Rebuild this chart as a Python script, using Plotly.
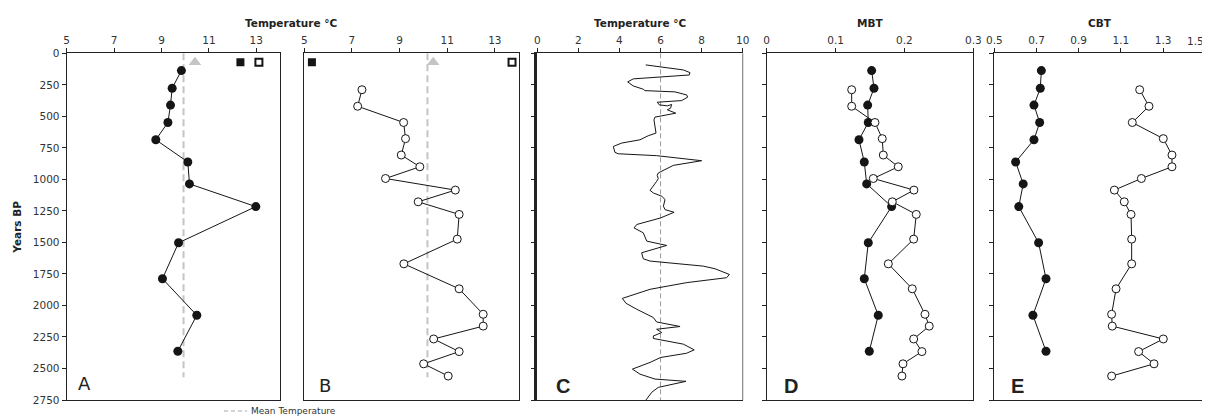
import plotly.graph_objects as go

# ---------------- data ----------------
# depth (Years BP) of samples
depth_filled = [137, 277, 411, 549, 686, 862, 1036, 1216, 1503, 1788, 2078, 2363]
depth_open = [289, 420, 549, 677, 807, 900, 993, 1085, 1178, 1278, 1474, 1670,
              1868, 2070, 2164, 2266, 2366, 2463, 2560]

# Panel A: temperature (filled)
temp_A = [9.84, 9.45, 9.38, 9.27, 8.76, 10.11, 10.18, 12.98, 9.72, 9.04, 10.49, 9.69]
# Panel B: temperature (open)
temp_B = [7.42, 7.24, 9.17, 9.25, 9.07, 9.85, 8.41, 11.34, 9.78, 11.5, 11.42, 9.18,
          11.5, 12.51, 12.51, 10.43, 11.5, 10.01, 11.04]

mean_A = 9.93
mean_B = 10.17
mean_span_AB = [0, 2570]

# modern reference markers (top of panels A and B)
modern_depth = 70
modern_A_triangle, modern_A_fsq, modern_A_osq = 10.41, 12.33, 13.11
modern_B_triangle, modern_B_fsq, modern_B_osq = 10.41, 5.32, 13.72

# Panel C: continuous temperature record
depth_C = [92, 132, 153, 172, 203, 227, 259, 285, 296, 306, 330, 348, 375, 388, 409,
           417, 406, 435, 448, 475, 496, 506, 528, 593, 633, 654, 686, 712, 739, 786,
           797, 812, 852, 889, 949, 968, 994, 1016, 1087, 1108, 1134, 1160, 1213, 1240,
           1261, 1306, 1358, 1385, 1424, 1490, 1524, 1582, 1630, 1648, 1688, 1709, 1754,
           1780, 1819, 1872, 1925, 1944, 1983, 2030, 2096, 2131, 2167, 2189, 2215, 2242,
           2262, 2307, 2352, 2379, 2413, 2452, 2505, 2545, 2584, 2602, 2650, 2689, 2750]
temp_C = [5.28, 7.11, 7.43, 7.40, 4.67, 4.40, 4.67, 5.16, 5.24, 6.70, 7.27, 7.32, 7.03,
          5.84, 5.94, 6.33, 6.54, 6.49, 6.33, 6.74, 6.06, 5.73, 5.68, 5.73, 5.78, 5.40,
          5.00, 4.11, 3.70, 3.78, 3.94, 5.81, 8.00, 6.62, 5.89, 5.84, 5.89, 5.81, 5.49,
          5.65, 6.06, 6.22, 6.14, 6.22, 6.66, 6.00, 4.84, 4.71, 5.16, 5.33, 6.30, 5.08,
          5.16, 5.49, 8.08, 8.65, 9.35, 9.22, 7.27, 5.49, 4.51, 4.14, 4.32, 4.84, 5.65,
          5.81, 6.95, 5.81, 6.06, 5.65, 5.65, 7.11, 7.64, 7.27, 6.00, 5.49, 4.63, 5.00,
          5.73, 7.24, 5.89, 5.57, 5.29]
mean_C = 6.0
mean_span_C = [0, 2750]

# Panel D: MBT
mbt_filled = [0.1524, 0.1558, 0.1466, 0.1475, 0.134, 0.1417, 0.1452, 0.1814, 0.1475,
              0.1417, 0.162, 0.149]
mbt_open = [0.1234, 0.1234, 0.1572, 0.1678, 0.1693, 0.191, 0.1548, 0.2138, 0.1824,
            0.2172, 0.2134, 0.1766, 0.2114, 0.2298, 0.236, 0.2134, 0.2254, 0.1979, 0.1964]

# Panel E: CBT
cbt_filled = [0.723, 0.718, 0.688, 0.715, 0.688, 0.601, 0.637, 0.616, 0.710, 0.745,
              0.683, 0.745]
cbt_open = [1.189, 1.233, 1.154, 1.301, 1.342, 1.342, 1.197, 1.069, 1.116, 1.148, 1.151,
            1.151, 1.077, 1.056, 1.059, 1.301, 1.184, 1.257, 1.056]

# tick values / labels
x_tickvals = [[5, 7, 9, 11, 13], [5, 7, 9, 11, 13], [0, 2, 4, 6, 8, 10],
              [0, 0.1, 0.2, 0.3], [0.5, 0.7, 0.9, 1.1, 1.3, 1.5]]
x_ticktext = [["5", "7", "9", "11", "13"], ["5", "7", "9", "11", "13"],
              ["0", "2", "4", "6", "8", "10"], ["0", "0.1", "0.2", "0.3"],
              ["0.5", "0.7", "0.9", "1.1", "1.3", ""]]
last_E_label = "1.5"
y_tickvals = list(range(0, 2751, 250))

panel_letters = ["A", "B", "C", "D", "E"]
x_titles = ["Temperature °C", "Temperature °C", "MBT", "CBT"]
y_title = "Years BP"
legend_text = "Mean Temperature"

# ---------------- figure geometry ----------------
PAGE_W, PAGE_H = 1210, 417
OFF = 8                      # default body margin of the html page
W, H = PAGE_W - OFF, PAGE_H - OFF

def fx(px):
    return (px - OFF) / W

def fy(py):
    return 1 - (py - OFF) / H

fig = go.Figure()

FILLED = dict(color="#151515", size=9)
OPEN = dict(color="white", size=8, line=dict(color="#151515", width=1))
LINE = dict(color="#151515", width=1)

def add(x, y, idx, **kw):
    ax = "" if idx == 1 else str(idx)
    fig.add_trace(go.Scatter(x=x, y=y, xaxis="x" + ax, yaxis="y" + ax,
                             showlegend=False, hoverinfo="skip", **kw))

# Panel A
add([mean_A, mean_A], mean_span_AB, 1, mode="lines",
    line=dict(color="#c4c4c4", width=2, dash="7px,4px"))
add(temp_A, depth_filled, 1, mode="lines+markers", line=LINE, marker=FILLED)
add([modern_A_triangle], [modern_depth], 1, mode="markers",
    marker=dict(symbol="triangle-up", color="#c4c4c4", size=11))
add([modern_A_fsq], [modern_depth], 1, mode="markers",
    marker=dict(symbol="square", color="#151515", size=8))
add([modern_A_osq], [modern_depth], 1, mode="markers",
    marker=dict(symbol="square", color="white", size=7, line=dict(color="#151515", width=2)))

# Panel B
add([mean_B, mean_B], mean_span_AB, 2, mode="lines",
    line=dict(color="#c4c4c4", width=2, dash="7px,4px"))
add(temp_B, depth_open, 2, mode="lines+markers", line=LINE, marker=OPEN)
add([modern_B_triangle], [modern_depth], 2, mode="markers",
    marker=dict(symbol="triangle-up", color="#c4c4c4", size=11))
add([modern_B_fsq], [modern_depth], 2, mode="markers",
    marker=dict(symbol="square", color="#151515", size=8))
add([modern_B_osq], [modern_depth], 2, mode="markers",
    marker=dict(symbol="square", color="white", size=7, line=dict(color="#151515", width=2)))

# Panel C
add([mean_C, mean_C], mean_span_C, 3, mode="lines",
    line=dict(color="#9a9a9a", width=1, dash="5px,3px"))
add(temp_C, depth_C, 3, mode="lines", line=dict(color="#151515", width=1))

# Panel D
add(mbt_filled, depth_filled, 4, mode="lines+markers", line=LINE, marker=FILLED)
add(mbt_open, depth_open, 4, mode="lines+markers", line=LINE, marker=OPEN)

# Panel E
add(cbt_filled, depth_filled, 5, mode="lines+markers", line=LINE, marker=FILLED)
add(cbt_open, depth_open, 5, mode="lines+markers", line=LINE, marker=OPEN)

# ---------------- axes ----------------
px_left = [66.7, 304.3, 537.3, 766.7, 994.3]
px_right = [280.0, 518.7, 742.7, 973.3, 1205.3]
x_ranges = [[5, 14], [5, 14], [0, 10], [0, 0.3], [0.5, 1.5]]
top_px, bot_px = 53.3, 400.0
ydom = [fy(bot_px), fy(top_px)]

TICKFONT = dict(family="DejaVu Sans", size=10.5, color="#333333")
layout = {}
for i in range(5):
    ax = "" if i == 0 else str(i + 1)
    layout["xaxis" + ax] = dict(
        domain=[fx(px_left[i]), fx(px_right[i])], range=x_ranges[i],
        anchor="y" + ax, side="top", tickmode="array", tickvals=x_tickvals[i],
        ticktext=x_ticktext[i],
        ticks="outside", ticklen=4, tickcolor="#222", showgrid=False, zeroline=False,
        showline=True, linecolor="#222", linewidth=1.2, mirror=True,
        tickfont=TICKFONT, fixedrange=True, automargin=False)
    ydict = dict(
        domain=ydom, range=[2750, 0], anchor="x" + ax, tickmode="array",
        tickvals=y_tickvals,
        showgrid=False, zeroline=False, showline=True, linecolor="#222",
        linewidth=1.2, mirror=True, tickfont=TICKFONT, fixedrange=True,
        automargin=False)
    if i == 0:
        ydict.update(ticks="outside", ticklen=4, tickcolor="#222", showticklabels=True)
    elif i == 1:
        ydict.update(ticks="", showticklabels=False)
    else:
        ydict.update(ticks="outside", ticklen=4, tickcolor="#222", showticklabels=False)
    if i == 2:
        ydict.update(linewidth=2.6, mirror=False)
    layout["yaxis" + ax] = ydict

shapes = [
    # right border of panel C (thin grey)
    dict(type="line", xref="x3 domain", yref="y3 domain", x0=1, x1=1, y0=0, y1=1,
         line=dict(color="#888888", width=1.2)),
    # legend sample
    dict(type="line", xref="paper", yref="paper", x0=fx(224), x1=fx(247),
         y0=fy(411), y1=fy(411),
         line=dict(color="#aaaaaa", width=1.2, dash="4px,3px")),
]

annotations = []
TITLEFONT = dict(family="DejaVu Sans", size=10.5, color="#222222")
title_pos = [291, 640, 870, 1100]
for t, xp in zip(x_titles, title_pos):
    annotations.append(dict(text="<b>" + t + "</b>", x=fx(xp), y=fy(23),
                            xref="paper", yref="paper", showarrow=False,
                            xanchor="center", yanchor="middle", font=TITLEFONT))
annotations.append(dict(text="<b>" + y_title + "</b>", x=fx(16.7), y=fy(227),
                        xref="paper", yref="paper", showarrow=False, textangle=-90,
                        xanchor="center", yanchor="middle", font=TITLEFONT))
# last CBT tick label, pulled inside the page edge
annotations.append(dict(text=last_E_label, x=x_tickvals[4][-1], xref="x5",
                        y=fy(41), yref="paper", showarrow=False, xanchor="right",
                        xshift=1, yanchor="middle", font=TICKFONT))
# panel letters
letter_x = [76, 317.3, 554, 781.7, 1009.3]
letter_y = [383, 385, 386, 386, 386]
for i, L in enumerate(panel_letters):
    if i < 2:
        f = dict(family="DejaVu Sans", size=18, color="#222")
        txt = L
    else:
        f = dict(family="Liberation Sans", size=20, color="#222")
        txt = "<b>" + L + "</b>"
    annotations.append(dict(text=txt, x=fx(letter_x[i]), y=fy(letter_y[i]),
                            xref="paper", yref="paper", showarrow=False,
                            xanchor="left", yanchor="middle", font=f))
annotations.append(dict(text=legend_text, x=fx(249), y=fy(411), xref="paper",
                        yref="paper", showarrow=False, xanchor="left", yanchor="middle",
                        font=dict(family="DejaVu Sans", size=9, color="#333")))

fig.update_layout(width=W, height=H, margin=dict(l=0, r=0, t=0, b=0, autoexpand=False),
                  paper_bgcolor="white", plot_bgcolor="white",
                  shapes=shapes, annotations=annotations, **layout)

fig.write_html("out.html")
